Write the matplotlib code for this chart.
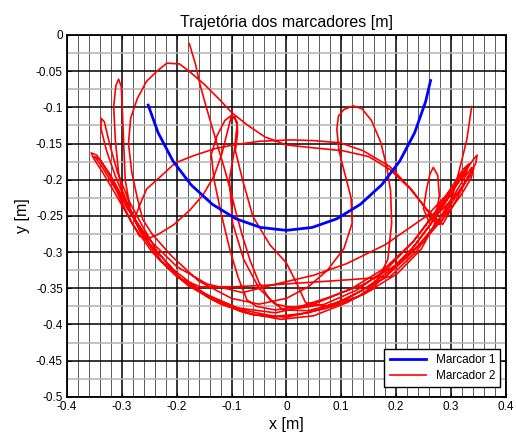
import numpy as np
import matplotlib
matplotlib.use('Agg')
import matplotlib.pyplot as plt
from matplotlib.ticker import MultipleLocator

plt.rcParams['font.family'] = ['Liberation Sans', 'DejaVu Sans']
plt.rcParams['axes.unicode_minus'] = False

# marcador 1: arco do pendulo
m1_x = [-0.252, -0.234, -0.207, -0.174, -0.135, -0.092, -0.047, 0.000,
        0.047, 0.092, 0.135, 0.174, 0.207, 0.234, 0.254, 0.263]
m1_y = [-0.097, -0.135, -0.174, -0.207, -0.234, -0.254, -0.266, -0.270,
        -0.266, -0.254, -0.234, -0.207, -0.174, -0.135, -0.092, -0.063]

# marcador 2: trajetoria, em trechos
trecho1 = [(-0.177, -0.012), (-0.166, -0.040), (-0.157, -0.070), (-0.146, -0.100),
           (-0.134, -0.131), (-0.124, -0.157), (-0.114, -0.182), (-0.103, -0.212),
           (-0.092, -0.245), (-0.080, -0.278), (-0.066, -0.312), (-0.050, -0.342),
           (-0.030, -0.366), (-0.005, -0.380), (0.040, -0.381), (0.090, -0.371),
           (0.140, -0.352), (0.190, -0.325), (0.235, -0.290), (0.270, -0.255),
           (0.300, -0.220), (0.325, -0.190), (0.341, -0.172), (0.348, -0.166),
           (0.345, -0.178), (0.330, -0.198), (0.302, -0.232), (0.268, -0.266),
           (0.228, -0.302), (0.178, -0.336), (0.112, -0.364), (0.040, -0.384),
           (-0.020, -0.389), (-0.080, -0.380), (-0.139, -0.362), (-0.200, -0.334),
           (-0.245, -0.300), (-0.280, -0.262), (-0.310, -0.222), (-0.335, -0.190),
           (-0.352, -0.170), (-0.356, -0.163), (-0.346, -0.166), (-0.322, -0.192),
           (-0.296, -0.228), (-0.266, -0.272), (-0.228, -0.312), (-0.190, -0.338),
           (-0.157, -0.348), (-0.100, -0.348), (-0.040, -0.346), (0.020, -0.343),
           (0.100, -0.339), (0.189, -0.334)]
trecho2 = [(0.236, -0.300), (0.272, -0.262), (0.302, -0.226), (0.326, -0.196),
           (0.338, -0.183), (0.335, -0.195), (0.315, -0.216), (0.286, -0.240),
           (0.260, -0.258), (0.250, -0.240), (0.256, -0.212), (0.262, -0.192),
           (0.268, -0.183), (0.276, -0.194), (0.279, -0.222), (0.270, -0.262),
           (0.246, -0.296), (0.202, -0.330), (0.142, -0.358), (0.072, -0.378),
           (0.000, -0.390), (-0.060, -0.387), (-0.120, -0.372), (-0.180, -0.346),
           (-0.230, -0.312), (-0.266, -0.272), (-0.292, -0.232), (-0.312, -0.195),
           (-0.328, -0.160), (-0.338, -0.130), (-0.338, -0.115), (-0.332, -0.120),
           (-0.322, -0.152), (-0.308, -0.190), (-0.288, -0.228), (-0.264, -0.262),
           (-0.235, -0.300), (-0.195, -0.335), (-0.140, -0.364), (-0.080, -0.383),
           (-0.010, -0.393), (0.050, -0.388), (0.110, -0.370), (0.160, -0.350)]
trecho3 = [(0.185, -0.310), (0.192, -0.260), (0.190, -0.215), (0.183, -0.182),
           (0.172, -0.148), (0.155, -0.118), (0.138, -0.102), (0.122, -0.098),
           (0.105, -0.103), (0.095, -0.112), (0.092, -0.130), (0.096, -0.160),
           (0.106, -0.190), (0.118, -0.225), (0.120, -0.260), (0.105, -0.295),
           (0.075, -0.325), (0.040, -0.348), (0.000, -0.364), (-0.050, -0.372),
           (-0.100, -0.364), (-0.160, -0.340), (-0.210, -0.305), (-0.245, -0.275)]
trecho4 = [(-0.262, -0.255), (-0.272, -0.225), (-0.282, -0.190), (-0.288, -0.150),
           (-0.284, -0.115), (-0.272, -0.088), (-0.255, -0.064), (-0.236, -0.050),
           (-0.218, -0.039), (-0.195, -0.040), (-0.176, -0.051), (-0.150, -0.068),
           (-0.121, -0.090), (-0.100, -0.107), (-0.072, -0.124), (-0.039, -0.141),
           (0.000, -0.152), (0.050, -0.156), (0.103, -0.160), (0.150, -0.168),
           (0.189, -0.186), (0.225, -0.212), (0.255, -0.240), (0.285, -0.262),
           (0.310, -0.228), (0.331, -0.196), (0.342, -0.184), (0.337, -0.198),
           (0.318, -0.222), (0.290, -0.250), (0.250, -0.285), (0.200, -0.318),
           (0.140, -0.345), (0.080, -0.362), (0.030, -0.374), (-0.020, -0.380),
           (-0.055, -0.375)]
trecho5 = [(-0.072, -0.366), (-0.088, -0.335), (-0.103, -0.297), (-0.118, -0.250),
           (-0.132, -0.200), (-0.137, -0.165), (-0.127, -0.140), (-0.112, -0.118),
           (-0.100, -0.111), (-0.090, -0.120), (-0.089, -0.135), (-0.093, -0.160),
           (-0.080, -0.200), (-0.061, -0.251), (-0.030, -0.290), (0.000, -0.315),
           (0.020, -0.345), (0.035, -0.370), (0.080, -0.376), (0.130, -0.362),
           (0.180, -0.335), (0.225, -0.300), (0.262, -0.262), (0.295, -0.225),
           (0.318, -0.195), (0.330, -0.182), (0.326, -0.192), (0.300, -0.215),
           (0.256, -0.250), (0.180, -0.290), (0.110, -0.316), (0.050, -0.332),
           (-0.012, -0.343), (-0.080, -0.356), (-0.145, -0.344), (-0.200, -0.320),
           (-0.250, -0.283), (-0.290, -0.240), (-0.318, -0.200), (-0.340, -0.172),
           (-0.350, -0.168), (-0.338, -0.180), (-0.310, -0.215), (-0.285, -0.255),
           (-0.268, -0.278), (-0.255, -0.282), (-0.235, -0.276), (-0.205, -0.262),
           (-0.176, -0.242), (-0.152, -0.221), (-0.132, -0.195), (-0.118, -0.165),
           (-0.108, -0.135), (-0.101, -0.114), (-0.094, -0.113), (-0.090, -0.125),
           (-0.095, -0.160), (-0.104, -0.200), (-0.098, -0.260), (-0.078, -0.310),
           (-0.050, -0.350), (-0.020, -0.372), (0.020, -0.378), (0.070, -0.372),
           (0.130, -0.352), (0.185, -0.322), (0.232, -0.285), (0.268, -0.248),
           (0.300, -0.212), (0.322, -0.186), (0.333, -0.178), (0.328, -0.190),
           (0.305, -0.212), (0.272, -0.246), (0.232, -0.285), (0.180, -0.322),
           (0.120, -0.350), (0.050, -0.372), (-0.020, -0.384), (-0.090, -0.377),
           (-0.150, -0.357), (-0.205, -0.325), (-0.250, -0.288), (-0.280, -0.250)]
trecho6 = [(-0.300, -0.214), (-0.306, -0.191), (-0.312, -0.145), (-0.315, -0.099),
           (-0.311, -0.070), (-0.306, -0.061), (-0.301, -0.072), (-0.299, -0.110),
           (-0.297, -0.145), (-0.294, -0.200), (-0.285, -0.240), (-0.276, -0.253),
           (-0.268, -0.236), (-0.255, -0.213), (-0.230, -0.196), (-0.203, -0.177),
           (-0.170, -0.167), (-0.130, -0.157), (-0.097, -0.152), (-0.050, -0.147),
           (0.007, -0.145), (0.050, -0.146), (0.098, -0.149), (0.140, -0.160),
           (0.189, -0.182), (0.230, -0.215), (0.262, -0.248), (0.280, -0.262),
           (0.297, -0.238), (0.311, -0.200), (0.320, -0.173), (0.329, -0.145),
           (0.338, -0.099)]

x_ticks = [-0.4, -0.3, -0.2, -0.1, 0, 0.1, 0.2, 0.3, 0.4]
x_labels = ['-0.4', '-0.3', '-0.2', '-0.1', '0', '0.1', '0.2', '0.3', '0.4']
y_ticks = [0, -0.05, -0.1, -0.15, -0.2, -0.25, -0.3, -0.35, -0.4, -0.45, -0.5]
y_labels = ['0', '-0.05', '-0.1', '-0.15', '-0.2', '-0.25', '-0.3', '-0.35',
            '-0.4', '-0.45', '-0.5']

m2 = np.array(trecho1 + trecho2 + trecho3 + trecho4 + trecho5 + trecho6)

fig = plt.figure(figsize=(5.16, 4.37), dpi=100)
ax = fig.add_axes([0.130, 0.092, 0.850, 0.828])

ax.plot(m1_x, m1_y, color='#0000ff', lw=2.0, label='Marcador 1', zorder=3)
ax.plot(m2[:, 0], m2[:, 1], color='#ff0000', lw=1.2, label='Marcador 2', zorder=2)

ax.set_xlim(-0.4, 0.4)
ax.set_ylim(-0.5, 0)
ax.set_xticks(x_ticks)
ax.set_xticklabels(x_labels)
ax.set_yticks(y_ticks)
ax.set_yticklabels(y_labels)
ax.xaxis.set_minor_locator(MultipleLocator(0.02))
ax.yaxis.set_minor_locator(MultipleLocator(0.025))

ax.set_axisbelow(True)
ax.grid(True, which='major', color='black', lw=1.1)
ax.xaxis.grid(True, which='minor', color='#5a5a5a', lw=0.7)
ax.yaxis.grid(True, which='minor', color='#b4b4b4', lw=1.1)

ax.tick_params(which='major', direction='in', length=3, width=0.8,
               top=True, right=True, labelsize=8.5, pad=3)
ax.tick_params(which='minor', length=0)
for s in ax.spines.values():
    s.set_linewidth(1.3)

ax.set_title('Trajetória dos marcadores [m]', fontsize=11.5, pad=6)
ax.set_xlabel('x [m]', fontsize=11.5, labelpad=3)
ax.set_ylabel('y [m]', fontsize=11.5, labelpad=4)

leg = ax.legend(loc='lower right', bbox_to_anchor=(0.988, 0.026), borderaxespad=0,
                fontsize=8.5, fancybox=False, framealpha=1, edgecolor='black',
                handlelength=3.1, labelspacing=0.35, borderpad=0.45)
leg.get_frame().set_linewidth(1.0)

fig.savefig('out.png', dpi=100)
